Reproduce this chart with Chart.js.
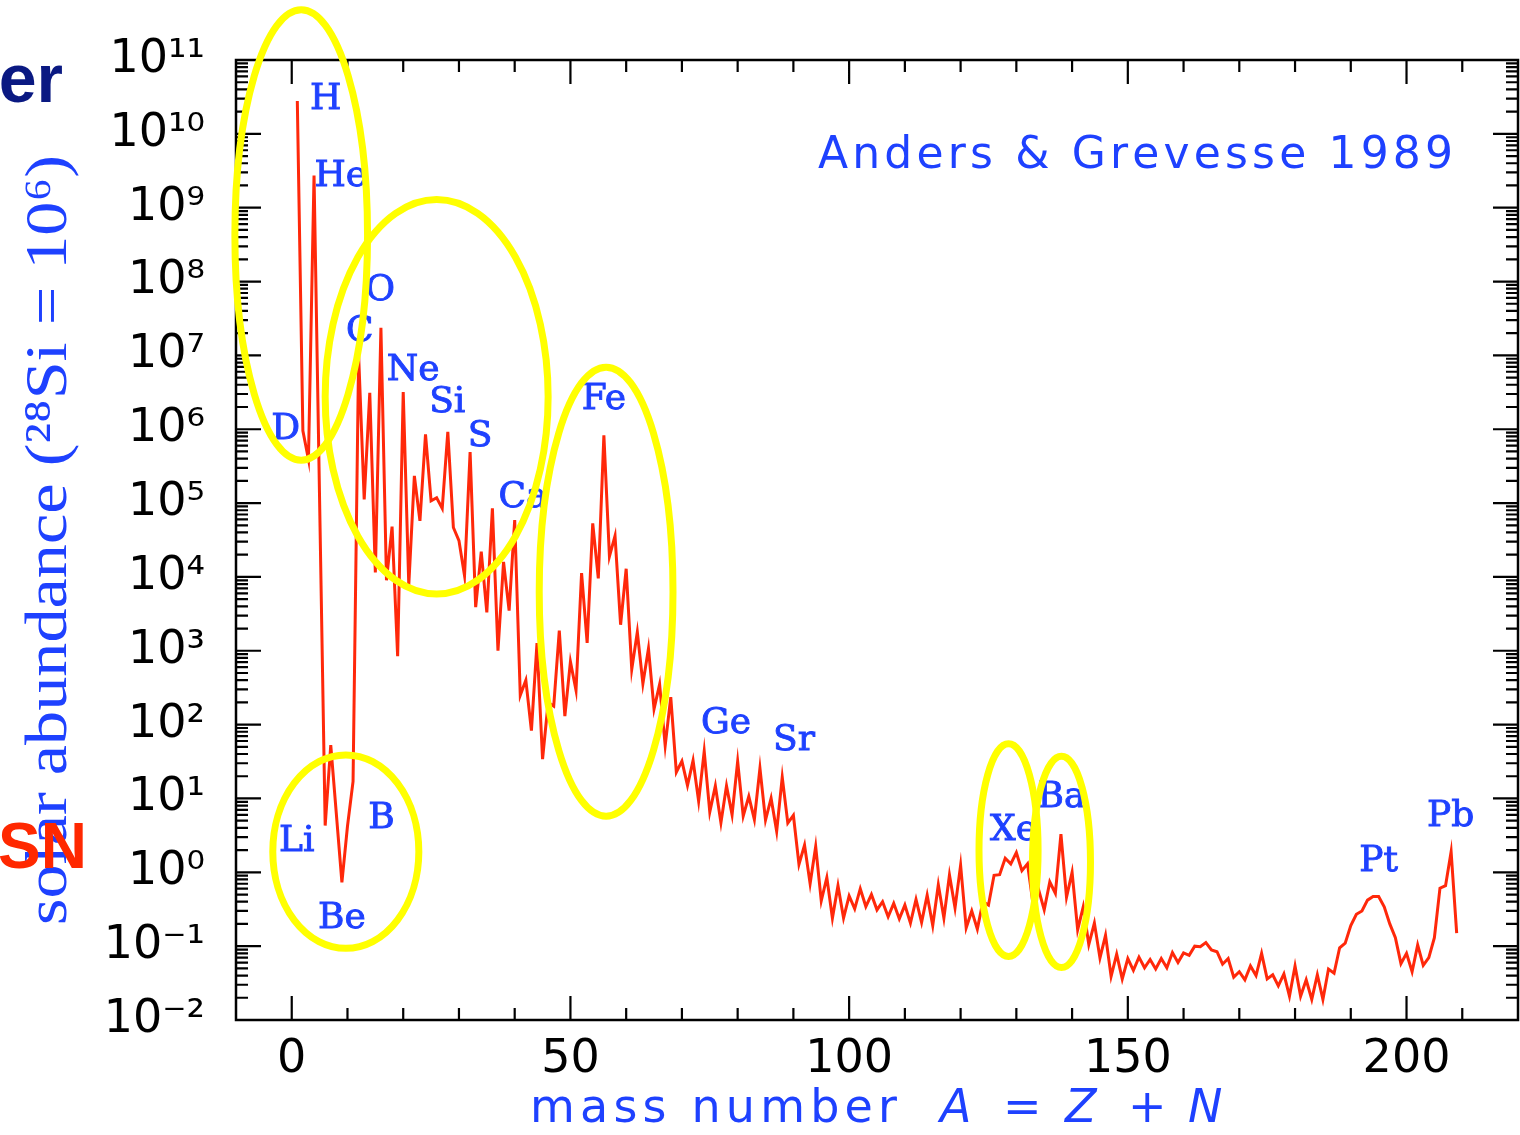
<!DOCTYPE html>
<html>
<head>
<meta charset="utf-8">
<script src="https://cdn.jsdelivr.net/npm/chart.js@4.4.1/dist/chart.umd.min.js"></script>
<style>
    html, body { margin: 0; padding: 0; background: #fff; }
    canvas { display: block; }
</style>
</head>
<body>
<canvas id="abundanceChart" width="1520" height="1135" style="width:1520px;height:1135px"></canvas>
<script>
// --- DATOS: abundancia solar por número másico (28Si = 1e6) ---
const massNumbers = [
    1, 2, 3, 4, 6, 7, 9, 10,
    11, 12, 13, 14, 15, 16, 17, 18, 19, 20,
    21, 22, 23, 24, 25, 26, 27, 28, 29, 30,
    31, 32, 33, 34, 35, 36, 37, 38, 39, 40,
    41, 42, 43, 44, 45, 46, 47, 48, 49, 50,
    51, 52, 53, 54, 55, 56, 57, 58, 59, 60,
    61, 62, 63, 64, 65, 66, 67, 68, 69, 70,
    71, 72, 73, 74, 75, 76, 77, 78, 79, 80,
    81, 82, 83, 84, 85, 86, 87, 88, 89, 90,
    91, 92, 93, 94, 95, 96, 97, 98, 99, 100,
    101, 102, 103, 104, 105, 106, 107, 108, 109, 110,
    111, 112, 113, 114, 115, 116, 117, 118, 119, 120,
    121, 122, 123, 124, 125, 126, 127, 128, 129, 130,
    131, 132, 133, 134, 135, 136, 137, 138, 139, 140,
    141, 142, 143, 144, 145, 146, 147, 148, 149, 150,
    151, 152, 153, 154, 155, 156, 157, 158, 159, 160,
    161, 162, 163, 164, 165, 166, 167, 168, 169, 170,
    171, 172, 173, 174, 175, 176, 177, 178, 179, 180,
    181, 182, 183, 184, 185, 186, 187, 188, 189, 190,
    191, 192, 193, 194, 195, 196, 197, 198, 199, 200,
    201, 202, 203, 204, 205, 206, 207, 208, 209
];
const abundances = [
    2.79e10, 9.5e5, 3.9e5, 2.72e9, 4.3, 52.8, 0.73, 4.2,
    17, 1.0e7, 1.12e5, 3.12e6, 1.15e4, 2.37e7, 9.0e3, 4.8e4, 843, 3.2e6,
    7.8e3, 2.34e5, 5.74e4, 8.5e5, 1.07e5, 1.18e5, 8.49e4, 9.22e5, 4.67e4, 3.1e4,
    1.04e4, 4.89e5, 3.9e3, 2.2e4, 3.3e3, 8.5e4, 1.0e3, 1.6e4, 3.5e3, 5.9e4,
    250, 400, 83, 1.27e3, 34, 200, 178, 1.88e3, 130, 712,
    292, 1.13e4, 1.28e3, 5.3e4, 9.55e3, 8.3e5, 1.9e4, 3.6e4, 2.25e3, 1.29e4,
    560, 1.79e3, 359, 1.07e3, 163, 351, 52, 236, 22.7, 32,
    15, 32.6, 9.2, 43.5, 6.56, 14.8, 4.7, 14.8, 6.0, 31.8,
    5.8, 10.7, 5.2, 25.7, 5.1, 10.1, 3.6, 19.4, 4.64, 5.9,
    1.28, 2.34, 0.70, 2.23, 0.41, 0.85, 0.24, 0.66, 0.24, 0.48,
    0.32, 0.60, 0.344, 0.50, 0.31, 0.40, 0.25, 0.38, 0.235, 0.36,
    0.205, 0.43, 0.21, 0.49, 0.19, 0.68, 0.24, 0.92, 0.33, 1.25,
    0.177, 0.30, 0.17, 0.40, 0.36, 0.91, 0.93, 1.55, 1.3, 1.85,
    1.05, 1.3, 0.372, 0.58, 0.31, 0.74, 0.52, 3.3, 0.46, 1.0,
    0.167, 0.34, 0.105, 0.205, 0.069, 0.14, 0.039, 0.078, 0.036, 0.068,
    0.047, 0.071, 0.051, 0.066, 0.049, 0.068, 0.051, 0.082, 0.060, 0.081,
    0.075, 0.10, 0.098, 0.112, 0.089, 0.084, 0.057, 0.068, 0.038, 0.045,
    0.035, 0.054, 0.040, 0.080, 0.036, 0.041, 0.029, 0.042, 0.021, 0.054,
    0.021, 0.035, 0.019, 0.041, 0.019, 0.049, 0.043, 0.095, 0.11, 0.19,
    0.27, 0.30, 0.42, 0.47, 0.47, 0.34, 0.20, 0.13, 0.058, 0.080,
    0.045, 0.104, 0.055, 0.070, 0.13, 0.61, 0.66, 1.9, 0.15
];

const xTickValues = [0, 50, 100, 150, 200];
const yDecades = [-2, -1, 0, 1, 2, 3, 4, 5, 6, 7, 8, 9, 10, 11];

// Etiquetas de elementos: número másico y log10 de la altura
const elementNames = ['H', 'He', 'D', 'C', 'O', 'Ne', 'Si', 'S', 'Ca', 'Fe', 'Li', 'B', 'Be', 'Ge', 'Sr', 'Xe', 'Ba', 'Pt', 'Pb'];
const elementMass = [6.1, 8.8, -1.1, 12.2, 15.9, 21.8, 27.9, 33.8, 41.5, 56.0, 0.9, 16.1, 9.0, 77.9, 90.1, 129.5, 138.1, 195.0, 207.9];
const elementLogY = [10.46, 9.42, 5.99, 7.32, 7.87, 6.79, 6.36, 5.90, 5.08, 6.40, 0.41, 0.72, -0.63, 2.01, 1.78, 0.57, 1.01, 0.15, 0.75];

// Elipses amarillas: centro (A, log10) y semiejes (A, décadas)
const ellipseMass = [1.7, 26.0, 56.4, 9.7, 128.6, 138.1];
const ellipseLogY = [8.63, 6.44, 3.80, 0.28, 0.30, 0.14];
const ellipseHalfA = [11.9, 20.0, 12.0, 13.1, 5.3, 5.2];
const ellipseHalfDec = [3.05, 2.67, 3.04, 1.31, 1.44, 1.43];

const BLUE = 'rgb(30, 65, 255)';
const SUP = { '-': '⁻', '0': '⁰', '1': '¹', '2': '²', '3': '³', '4': '⁴', '5': '⁵', '6': '⁶', '7': '⁷', '8': '⁸', '9': '⁹' };

function powerLabel(value) {
    const e = Math.round(Math.log10(value));
    return '10' + String(e).split('').map(c => SUP[c]).join('');
}

function drawSpaced(ctx, text, left, midY, width) {
    const chars = [...text];
    const widths = chars.map(c => ctx.measureText(c).width);
    const total = widths.reduce((s, w) => s + w, 0);
    const gap = chars.length > 1 ? (width - total) / (chars.length - 1) : 0;
    ctx.textAlign = 'left';
    ctx.textBaseline = 'middle';
    let cx = left;
    chars.forEach((c, i) => {
        ctx.fillText(c, cx, midY);
        cx += widths[i] + gap;
    });
}

const decorations = {
    id: 'decorations',
    afterDraw(chart) {
        const { ctx, chartArea: area, scales: { x, y } } = chart;
        ctx.save();

        // marco y marcas hacia dentro
        ctx.strokeStyle = '#000';
        ctx.lineWidth = 2.5;
        ctx.strokeRect(area.left, area.top, area.right - area.left, area.bottom - area.top);
        ctx.lineWidth = 2.2;
        ctx.beginPath();
        for (let v = 0; v <= 210; v += 10) {
            const px = x.getPixelForValue(v);
            const len = v % 50 === 0 ? 24 : 12;
            ctx.moveTo(px, area.bottom); ctx.lineTo(px, area.bottom - len);
            ctx.moveTo(px, area.top); ctx.lineTo(px, area.top + len);
        }
        for (let e = -2; e <= 10; e++) {
            for (let k = 1; k <= 9; k++) {
                const py = y.getPixelForValue(k * Math.pow(10, e));
                const len = k === 1 ? 25 : 12;
                ctx.moveTo(area.left, py); ctx.lineTo(area.left + len, py);
                ctx.moveTo(area.right, py); ctx.lineTo(area.right - len, py);
            }
        }
        ctx.stroke();

        // nombres de elementos
        ctx.fillStyle = BLUE;
        ctx.strokeStyle = BLUE;
        ctx.lineWidth = 0.9;
        ctx.font = '36px "DejaVu Serif"';
        ctx.textAlign = 'center';
        ctx.textBaseline = 'middle';
        elementNames.forEach((name, i) => {
            const px = x.getPixelForValue(elementMass[i]);
            const py = y.getPixelForValue(Math.pow(10, elementLogY[i]));
            ctx.fillText(name, px, py);
            ctx.strokeText(name, px, py);
        });

        // elipses
        ctx.strokeStyle = 'rgb(255, 255, 0)';
        ctx.lineWidth = 7;
        ellipseMass.forEach((a, i) => {
            const cx = x.getPixelForValue(a);
            const cy = y.getPixelForValue(Math.pow(10, ellipseLogY[i]));
            const rx = x.getPixelForValue(a + ellipseHalfA[i]) - cx;
            const ry = cy - y.getPixelForValue(Math.pow(10, ellipseLogY[i] + ellipseHalfDec[i]));
            ctx.beginPath();
            ctx.ellipse(cx, cy, rx, ry, 0, 0, Math.PI * 2);
            ctx.stroke();
        });

        // título dentro del gráfico
        ctx.fillStyle = BLUE;
        ctx.font = '44px "DejaVu Sans"';
        drawSpaced(ctx, 'Anders & Grevesse 1989', 818, 157, 635);

        // título del eje x
        ctx.font = '46px "DejaVu Sans"';
        drawSpaced(ctx, 'mass number', 530, 1110, 367);
        ctx.textAlign = 'left';
        ctx.font = 'italic 46px "DejaVu Sans"';
        ctx.fillText('A', 940, 1110);
        ctx.fillText('Z', 1065, 1110);
        ctx.fillText('N', 1188, 1110);
        ctx.font = '46px "DejaVu Sans"';
        ctx.fillText('=', 1003, 1110);
        ctx.fillText('+', 1128, 1110);

        // título del eje y (ajustado a la longitud)
        ctx.save();
        ctx.translate(50, 540);
        ctx.rotate(-Math.PI / 2);
        ctx.font = '60px "Liberation Serif"';
        const yTitle = 'solar abundance (²⁸Si = 10⁶)';
        const natural = ctx.measureText(yTitle).width;
        ctx.scale(770 / natural, 1);
        ctx.textAlign = 'center';
        ctx.textBaseline = 'middle';
        ctx.fillText(yTitle, 0, 0);
        ctx.restore();

        // restos de la diapositiva
        ctx.fillStyle = 'rgb(10, 25, 130)';
        ctx.font = 'bold 68px "Liberation Sans"';
        ctx.textAlign = 'right';
        ctx.textBaseline = 'alphabetic';
        ctx.fillText('er', 63, 102);
        ctx.fillStyle = 'rgb(255, 40, 0)';
        ctx.font = 'bold 64px "Liberation Sans"';
        ctx.textAlign = 'left';
        ctx.fillText('SN', -2, 868);

        ctx.restore();
    }
};

const ctx = document.getElementById('abundanceChart');
new Chart(ctx, {
    type: 'line',
    data: {
        datasets: [{
            data: massNumbers.map((a, i) => ({ x: a, y: abundances[i] })),
            borderColor: 'rgb(255, 40, 10)',
            borderWidth: 3,
            pointRadius: 0,
            tension: 0,
            fill: false
        }]
    },
    options: {
        responsive: false,
        animation: false,
        devicePixelRatio: 1,
        layout: { padding: { top: 60, right: 2, left: 0, bottom: 0 } },
        plugins: { legend: { display: false }, tooltip: { enabled: false } },
        scales: {
            x: {
                type: 'linear',
                min: -10,
                max: 220,
                grid: { display: false, drawTicks: false },
                border: { display: false },
                afterBuildTicks: scale => { scale.ticks = xTickValues.map(v => ({ value: v })); },
                afterFit: scale => { scale.height = 115; },
                ticks: {
                    autoSkip: false,
                    maxRotation: 0,
                    padding: 12,
                    color: '#000',
                    font: { family: 'DejaVu Sans', size: 46 },
                    callback: v => String(v)
                }
            },
            y: {
                type: 'logarithmic',
                min: 1e-2,
                max: 1e11,
                grid: { display: false, drawTicks: false },
                border: { display: false },
                afterBuildTicks: scale => { scale.ticks = yDecades.map(e => ({ value: Math.pow(10, e) })); },
                afterFit: scale => { scale.width = 236; },
                ticks: {
                    autoSkip: false,
                    padding: 31,
                    color: '#000',
                    font: { family: 'DejaVu Sans', size: 46 },
                    callback: v => powerLabel(v)
                }
            }
        }
    },
    plugins: [decorations]
});
</script>
</body>
</html>
